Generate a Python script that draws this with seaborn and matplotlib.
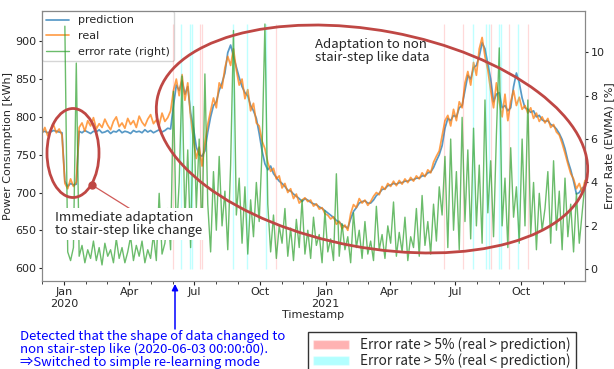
import numpy as np
import pandas as pd
import matplotlib
matplotlib.use("Agg")
import matplotlib.pyplot as plt
import matplotlib.dates as mdates
from matplotlib.patches import Ellipse, Patch
import seaborn as sns

# ---------------- data (one value every 4 days) ----------------
start_date = "2019-12-01"
step = "4D"

real = [
    778, 786, 775, 783, 790, 779, 784, 776,
    712, 705, 718, 708, 714,
    786, 792, 781, 795, 788, 799, 784, 791, 786, 797, 789, 783, 794, 800, 787, 792,
    785, 798, 790, 795, 786, 801, 793, 788, 797, 803, 791, 796, 789, 805, 794, 799, 808,
    835, 850, 828, 856, 822, 845,
    800, 770, 745, 760, 735, 765,
    790, 808, 825, 812, 845, 838, 865,
    880, 868, 890,
    862, 842, 850, 824, 836, 808, 818, 792, 788, 768, 758,
    740, 728, 732, 718, 722, 706, 712, 700, 705, 692, 698, 686, 690,
    693, 688, 690, 682, 685, 678, 680, 672, 670, 665, 668, 658, 662, 652, 657, 650,
    672, 684, 680, 692, 686, 690, 683, 688, 695, 700, 697, 708, 704, 712, 708, 715,
    709, 716, 711, 718, 713, 720, 715, 722, 718, 726, 721, 730, 726, 740, 748, 755,
    775, 795, 802, 788, 810, 795, 820, 812, 845, 860, 842,
    872, 855, 890, 905, 880, 862, 835,
    812, 845, 820, 800, 830, 795, 820, 835, 815,
    826, 810, 815, 805, 812, 798, 805, 794, 800,
    792, 798, 786, 790, 780, 776, 765, 752, 738, 725, 718, 705, 712, 700, 716,
]

prediction = [
    780, 781, 779, 780, 782, 781, 780, 779,
    715, 708, 712, 710, 711,
    781, 779, 782, 780, 778, 781, 780, 783, 779, 780, 782, 778, 781, 780, 783, 779,
    781, 780, 778, 782, 780, 781, 779, 783, 780, 782, 779, 781, 783, 780, 782, 785, 784,
    815, 842, 835, 848, 830, 840,
    805, 785, 760, 750, 748, 755,
    780, 800, 815, 820, 835, 845, 858,
    885, 895, 880,
    866, 852, 840, 832, 828, 815, 808, 798, 778, 755, 738,
    730, 735, 725, 720, 715, 712, 708, 703, 702, 698, 695, 692, 688,
    692, 690, 687, 685, 684, 681, 679, 676, 673, 670, 667, 663, 661, 657, 655, 653,
    665, 675, 680, 686, 688, 689, 686, 686, 690, 696, 699, 704, 705, 709, 710, 712,
    711, 713, 713, 715, 715, 717, 717, 719, 719, 722, 722, 726, 727, 733, 742, 750,
    762, 785, 798, 795, 802, 800, 812, 815, 835, 855, 850,
    865, 868, 880, 898, 890, 870, 850,
    820, 830, 832, 812, 815, 808, 812, 840, 858,
    845, 825, 812, 810, 806, 808, 800, 802, 796,
    794, 795, 790, 788, 784, 778, 770, 758, 742, 730, 715, 698, 700, 706, 708,
]

error_rate = [
    np.nan, np.nan, np.nan, np.nan, np.nan, np.nan, np.nan, np.nan,
    11.2, 0.8, 0.4, 1.0, 9.5, 0.6, 1.1, 0.3, 0.9, 0.5, 1.3, 0.4, 1.0, 0.2, 1.2, 0.6,
    0.9, 0.3, 1.4, 0.5, 1.0, 0.3, 0.8, 1.5, 0.4, 1.1, 0.6, 1.3, 0.3, 0.9, 0.5, 1.6,
    0.4, 3.5, 0.7, 1.2, 2.8, 0.9,
    8.2, 1.5, 4.0, 8.9, 2.2, 5.5, 1.0, 7.5, 2.8, 6.0, 1.5, 9.0, 3.0, 0.8, 4.5, 1.8,
    5.2, 2.0, 3.6, 0.9, 4.8, 11.0, 2.5, 4.2, 1.2, 3.8, 0.7, 3.2, 1.5, 4.0, 2.2, 5.5, 11.3,
    3.0, 0.8, 2.5, 0.5, 2.0, 1.2, 2.8, 0.6, 1.9, 0.4, 2.3, 1.0, 3.2, 0.7, 1.8, 0.5,
    2.4, 1.1, 1.6, 0.3, 2.7, 0.8, 1.4, 0.4, 4.4, 0.6, 2.1, 0.9, 1.5, 0.3, 2.6, 1.0,
    1.8, 0.5, 2.2, 0.7, 1.3, 0.4, 2.9, 0.9, 1.6, 0.5, 2.0, 1.2, 3.1, 0.6, 1.7, 0.8,
    2.4, 0.4, 1.5, 1.0, 2.8, 0.6, 3.4, 1.1, 2.2, 0.7, 3.0, 1.3, 3.8,
    2.5, 5.2, 1.0, 6.0, 1.8, 4.5, 0.9, 7.0, 2.2, 5.5, 1.4, 6.5, 2.0, 4.8, 1.2, 7.8,
    2.6, 5.0, 1.5, 6.2, 10.2, 2.0, 4.2, 1.0, 5.6, 2.4, 3.8, 1.2, 6.0, 2.0, 7.8, 1.6,
    4.0, 0.9, 3.5, 1.8,
    2.8, 4.5, 1.2, 5.0, 1.8, 3.6, 0.9, 4.2, 1.5, 3.0, 0.8, 3.5, 1.2, 2.6, 4.0,
]

# days where error rate > 5 %
over_dates = ["2020-06-01", "2020-07-09", "2020-07-12", "2020-10-23", "2021-06-15",
              "2021-07-12", "2021-08-20", "2021-09-15", "2021-10-11"]      # real > prediction
under_dates = ["2020-06-12", "2020-06-25", "2020-06-28", "2020-08-25", "2020-09-13",
               "2020-10-09", "2021-07-26", "2021-08-13", "2021-08-17", "2021-08-31",
               "2021-09-03", "2021-09-27"]                                 # real < prediction

tick_dates = ["2020-01-01", "2020-04-01", "2020-07-01", "2020-10-01",
              "2021-01-01", "2021-04-01", "2021-07-01", "2021-10-01"]
tick_labels = ["Jan\n2020", "Apr", "Jul", "Oct", "Jan\n2021", "Apr", "Jul", "Oct"]
left_ticks = [600, 650, 700, 750, 800, 850, 900]
right_ticks = [0, 2, 4, 6, 8, 10]
detected_date = "2020-06-03"

# ---------------- style ----------------
sns.set_style("ticks")
plt.rcParams["font.family"] = ["DejaVu Sans"]
plt.rcParams["font.size"] = 8
ann_font = ["Noto Sans CJK JP", "DejaVu Sans"]
ell_color = "#bf4744"

fig = plt.figure(figsize=(6.14, 3.69), dpi=100)
W, H = 614, 369
ax = fig.add_axes([42 / W, 1 - 281 / H, 543 / W, 270 / H])

df = pd.DataFrame({
    "timestamp": pd.date_range(start_date, periods=len(real), freq=step),
    "prediction": prediction,
    "real": real,
    "error": error_rate,
})

sns.lineplot(data=df, x="timestamp", y="prediction", ax=ax, color="#1f77b4",
             alpha=0.75, lw=1.25, label="prediction")
sns.lineplot(data=df, x="timestamp", y="real", ax=ax, color="#ff7f0e",
             alpha=0.75, lw=1.25, label="real")
ax.set_ylim(583, 940)
ax.set_yticks(left_ticks)

ax2 = ax.twinx()
ax2.vlines(pd.to_datetime(over_dates), 0, 11.3, color="red", alpha=0.15, lw=0.9)
ax2.vlines(pd.to_datetime(under_dates), 0, 11.3, color="cyan", alpha=0.25, lw=1.0)
sns.lineplot(data=df, x="timestamp", y="error", ax=ax2, color="#2ca02c",
             alpha=0.7, lw=1.0, label="error rate (right)")
ax2.set_ylim(-0.54, 11.9)
ax2.set_yticks(right_ticks)

ax.set_xlim(df["timestamp"].iloc[0], df["timestamp"].iloc[-1])
ax.set_xticks(pd.to_datetime(tick_dates))
ax.set_xticklabels(tick_labels)
ax.xaxis.set_minor_locator(mdates.MonthLocator())
ax.tick_params(axis="x", which="major", length=3, pad=1.5, labelsize=8)
ax.tick_params(axis="x", which="minor", length=2)
ax.tick_params(axis="y", length=2.5, pad=1.5, labelsize=8)
ax2.tick_params(axis="y", length=2.5, pad=1.5, labelsize=8)

ax.set_xlabel("Timestamp", fontsize=8, labelpad=1)
ax.set_ylabel("Power Consumption [kWh]", fontsize=8, labelpad=2)
ax2.set_ylabel("Error Rate (EWMA) [%]", fontsize=8, labelpad=0)

for a in (ax, ax2):
    for s in a.spines.values():
        s.set_color("#888888")
        s.set_linewidth(0.8)

h1, l1 = ax.get_legend_handles_labels()
h2, l2 = ax2.get_legend_handles_labels()
if ax2.get_legend() is not None:
    ax2.get_legend().remove()
ax.legend(h1 + h2, l1 + l2, loc="upper left", borderaxespad=0, fontsize=8,
          handlelength=2, framealpha=0.8, fancybox=True)

# ---------------- annotations (overlay in pixel coordinates) ----------------
ov = fig.add_axes([0, 0, 1, 1], zorder=10)
ov.set_xlim(0, W)
ov.set_ylim(H, 0)
ov.axis("off")
ov.patch.set_alpha(0)

ov.add_patch(Ellipse((372, 139), 437, 217, angle=10.6, fill=False,
                     ec=ell_color, lw=2))
ov.add_patch(Ellipse((73, 153), 52, 89, angle=0, fill=False,
                     ec=ell_color, lw=2))
ov.plot([92, 132], [185, 210], color="#d05a58", lw=0.9)
ov.plot([92], [185], "o", color=ell_color, ms=5)

ov.text(315, 51, "Adaptation to non\nstair-step like data", family=ann_font,
        fontsize=9.5, va="center", ha="left", linespacing=1.05)
ov.text(55, 224, "Immediate adaptation\nto stair-step like change", family=ann_font,
        fontsize=9.5, va="center", ha="left", linespacing=1.05,
        bbox=dict(fc="white", ec="none", pad=2))

ov.annotate("", xy=(175, 284), xytext=(175, 329),
            arrowprops=dict(arrowstyle="-|>", color="blue", lw=1.1,
                            mutation_scale=9, shrinkA=0, shrinkB=0))
ov.text(20, 330, "Detected that the shape of data changed to\n"
                 "non stair-step like (" + detected_date + " 00:00:00).\n"
                 "\u21d2Switched to simple re-learning mode",
        family=ann_font, fontsize=9.5, color="blue", va="top", ha="left",
        linespacing=1.0)

fig.legend(handles=[Patch(fc="red", alpha=0.3), Patch(fc="cyan", alpha=0.3)],
           labels=["Error rate > 5% (real > prediction)",
                   "Error rate > 5% (real < prediction)"],
           loc="upper left", bbox_to_anchor=(308 / W, 1 - 332 / H),
           borderaxespad=0, fancybox=False, edgecolor="#333333", framealpha=1,
           prop={"family": ann_font, "size": 9.8}, handlelength=2.6,
           labelspacing=0.1)

fig.savefig("out.png", dpi=100)
